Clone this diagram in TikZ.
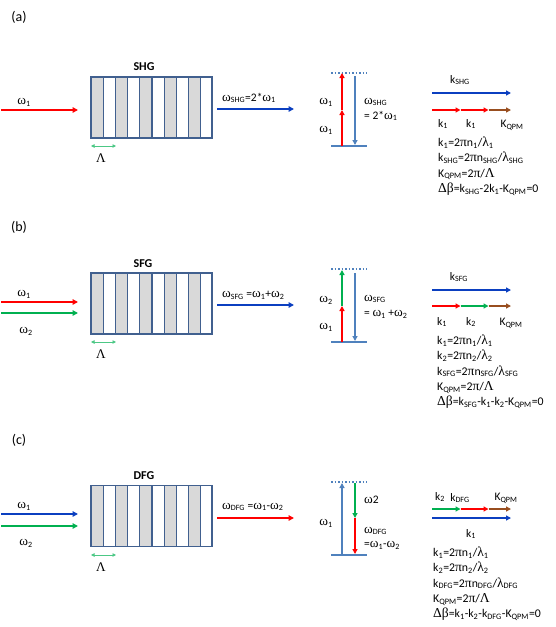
\documentclass[tikz,border=0pt]{standalone}
\usepackage{fontspec}
\setmainfont{Carlito}
\newfontfamily\greekfont[Scale=1.15]{Liberation Serif}
\usetikzlibrary{arrows.meta}
\newcommand{\om}{{\greekfont ω}}
\newcommand{\lam}{{\greekfont λ}}
\newcommand{\Lam}{{\greekfont Λ}}
\newcommand{\tpi}{{\greekfont π}}
\newcommand{\dbeta}{{\greekfont Δβ}}
\newcommand{\dn}[1]{\textsubscript{#1}}
\definecolor{beamred}{HTML}{FF0000}
\definecolor{beamblue}{HTML}{0B3FC0}
\definecolor{beamgreen}{HTML}{00B050}
\definecolor{beambrown}{HTML}{984E1F}
\definecolor{levelblue}{HTML}{4F81BD}
\definecolor{boxblue}{HTML}{41608F}
\definecolor{stripe}{HTML}{D9D9D9}
\tikzset{
  beam/.style={line width=1.7pt,-{Triangle[length=5.5pt,width=5.5pt]}},
  thinbeam/.style={line width=1.4pt,-{Triangle[length=5pt,width=5pt]}},
  period/.style={beamgreen!70,line width=0.9pt,{Triangle[length=3.5pt,width=3.5pt]}-{Triangle[length=3.5pt,width=3.5pt]}},
  level/.style={levelblue,line width=1.7pt},
  virtual/.style={levelblue,line width=1.5pt,dotted},
  crystal/.style={draw=boxblue,line width=1.3pt,minimum width=121pt,minimum height=61pt,inner sep=0pt},
  lbl/.style={font=\fontsize{11.5}{13}\selectfont,inner sep=0pt},
  title/.style={font=\fontsize{12}{14}\selectfont\bfseries,inner sep=0pt},
  eqs/.style={font=\fontsize{11.8}{15.2}\selectfont,inner sep=0pt,anchor=north west,align=left},
}
\begin{document}
\begin{tikzpicture}[x=1pt,y=-1pt]
    \useasboundingbox (0,0) rectangle (556,627);

    % Crystals
    \foreach \name/\top/\mid in {xtalA/77/107.5, xtalB/273/303.5, xtalC/485.5/516} {
        \foreach \i in {0,...,4}
            \draw[boxblue,line width=1.3pt,fill=stripe] (91+24.4*\i,\top) rectangle +(12.2,61);
        \node[crystal] (\name) at (151.5,\mid) {};
    }

    % (a) SHG
    \node[font=\fontsize{14}{16}\selectfont,inner sep=0pt] (tagA) at (19,17) {(a)};
    \node[title] (nameA) at (144,67) {SHG};
    \coordinate (inA) at (1,110);
    \coordinate (inAend) at (78,110);
    \draw[beam,beamred] (inA) -- (inAend);
    \node[lbl] (inAlbl) at (24,102) {\om\dn{1}};
    \coordinate (outA) at (217,109);
    \coordinate (outAend) at (294,109);
    \draw[beam,beamblue] (outA) -- (outAend);
    \node[lbl,anchor=west] (outAlbl) at (222,98) {\om\dn{SHG}=2*\om\dn{1}};
    \coordinate (perA) at (91,146);
    \coordinate (perAend) at (116,146);
    \draw[period] (perA) -- (perAend);
    \node[lbl] (lamA) at (101,158) {\Lam};
    % levels
    \coordinate (lowAl) at (331,146);
    \coordinate (lowAr) at (367,146);
    \coordinate (topAl) at (331,73);
    \coordinate (topAr) at (367,73);
    \draw[level] (lowAl) -- (lowAr);
    \draw[virtual] (topAl) -- (topAr);
    \coordinate (upA) at (342,146);
    \coordinate (upAm) at (342,110);
    \coordinate (upAt) at (342,73);
    \draw[thinbeam,beamred] (upA) -- (upAm);
    \draw[thinbeam,beamred] (upAm) -- (upAt);
    \coordinate (dnAt) at (355,76);
    \coordinate (dnA) at (355,145);
    \draw[thinbeam,levelblue] (dnAt) -- (dnA);
    \node[lbl] (wAa) at (326,102) {\om\dn{1}};
    \node[lbl] (wAb) at (326,130) {\om\dn{1}};
    \node[lbl,anchor=west] (wAc) at (364,102) {\om\dn{SHG}};
    \node[lbl,anchor=west] (wAd) at (364,116) {= 2*\om\dn{1}};
    % k vectors
    \coordinate (kAa) at (432,93);
    \coordinate (kAb) at (511,93);
    \draw[thinbeam,beamblue] (kAa) -- (kAb);
    \coordinate (kAc) at (432,110);
    \coordinate (kAd) at (460.5,110);
    \coordinate (kAe) at (488.5,110);
    \coordinate (kAf) at (511,110);
    \draw[thinbeam,beamred] (kAc) -- (kAd);
    \draw[thinbeam,beamred] (kAd) -- (kAe);
    \draw[thinbeam,beambrown] (kAe) -- (kAf);
    \node[lbl] (kAlbl) at (460,80) {k\dn{SHG}};
    \node[lbl] (kAone) at (443,124) {k\dn{1}};
    \node[lbl] (kAtwo) at (471,124) {k\dn{1}};
    \node[lbl] (kAqpm) at (512,125) {K\dn{QPM}};
    \node[eqs] (eqA) at (438,137) {k\dn{1}=2\tpi n\dn{1}/\lam\dn{1}\\k\dn{SHG}=2\tpi n\dn{SHG}/\lam\dn{SHG}\\K\dn{QPM}=2\tpi/\Lam\\\dbeta=k\dn{SHG}-2k\dn{1}-K\dn{QPM}=0};

    % (b) SFG
    \node[font=\fontsize{14}{16}\selectfont,inner sep=0pt] (tagB) at (19,227) {(b)};
    \node[title] (nameB) at (143,264) {SFG};
    \coordinate (inB) at (1,302);
    \coordinate (inBend) at (78,302);
    \draw[beam,beamred] (inB) -- (inBend);
    \coordinate (inC) at (1,313);
    \coordinate (inCend) at (78,313);
    \draw[beam,beamgreen] (inC) -- (inCend);
    \node[lbl] (inBlbl) at (24,294) {\om\dn{1}};
    \node[lbl] (inClbl) at (26,331) {\om\dn{2}};
    \coordinate (outB) at (217,305);
    \coordinate (outBend) at (294,305);
    \draw[beam,beamblue] (outB) -- (outBend);
    \node[lbl,anchor=west] (outBlbl) at (222,295) {\om\dn{SFG} =\om\dn{1}+\om\dn{2}};
    \coordinate (perB) at (91,342);
    \coordinate (perBend) at (116,342);
    \draw[period] (perB) -- (perBend);
    \node[lbl] (lamB) at (101,354) {\Lam};
    % levels
    \coordinate (lowBl) at (331,342);
    \coordinate (lowBr) at (367,342);
    \coordinate (topBl) at (331,269);
    \coordinate (topBr) at (367,269);
    \draw[level] (lowBl) -- (lowBr);
    \draw[virtual] (topBl) -- (topBr);
    \coordinate (upB) at (342,342);
    \coordinate (upBm) at (342,306);
    \coordinate (upBt) at (342,270);
    \draw[thinbeam,beamred] (upB) -- (upBm);
    \draw[thinbeam,beamgreen] (upBm) -- (upBt);
    \coordinate (dnBt) at (355,273);
    \coordinate (dnB) at (355,341);
    \draw[thinbeam,levelblue] (dnBt) -- (dnB);
    \node[lbl] (wBa) at (326,300) {\om\dn{2}};
    \node[lbl] (wBb) at (326,327) {\om\dn{1}};
    \node[lbl,anchor=west] (wBc) at (364,299) {\om\dn{SFG}};
    \node[lbl,anchor=west] (wBd) at (364,314) {= \om\dn{1} +\om\dn{2}};
    % k vectors
    \coordinate (kBa) at (432,290);
    \coordinate (kBb) at (511,290);
    \draw[thinbeam,beamblue] (kBa) -- (kBb);
    \coordinate (kBc) at (432,306);
    \coordinate (kBd) at (460.5,306);
    \coordinate (kBe) at (488.5,306);
    \coordinate (kBf) at (511,306);
    \draw[thinbeam,beamred] (kBc) -- (kBd);
    \draw[thinbeam,beamgreen] (kBd) -- (kBe);
    \draw[thinbeam,beambrown] (kBe) -- (kBf);
    \node[lbl] (kBlbl) at (459,277) {k\dn{SFG}};
    \node[lbl] (kBone) at (442,322) {k\dn{1}};
    \node[lbl] (kBtwo) at (471,322) {k\dn{2}};
    \node[lbl] (kBqpm) at (511,323) {K\dn{QPM}};
    \node[eqs] (eqB) at (437,335) {k\dn{1}=2\tpi n\dn{1}/\lam\dn{1}\\k\dn{2}=2\tpi n\dn{2}/\lam\dn{2}\\k\dn{SFG}=2\tpi n\dn{SFG}/\lam\dn{SFG}\\K\dn{QPM}=2\tpi/\Lam\\\dbeta=k\dn{SFG}-k\dn{1}-k\dn{2}-K\dn{QPM}=0};

    % (c) DFG
    \node[font=\fontsize{14}{16}\selectfont,inner sep=0pt] (tagC) at (19,440) {(c)};
    \node[title] (nameC) at (144,476) {DFG};
    \coordinate (inD) at (1,514);
    \coordinate (inDend) at (78,514);
    \draw[beam,beamblue] (inD) -- (inDend);
    \coordinate (inE) at (1,526);
    \coordinate (inEend) at (78,526);
    \draw[beam,beamgreen] (inE) -- (inEend);
    \node[lbl] (inDlbl) at (24,506) {\om\dn{1}};
    \node[lbl] (inElbl) at (26,543) {\om\dn{2}};
    \coordinate (outC) at (217,518);
    \coordinate (outCend) at (294,518);
    \draw[beam,beamred] (outC) -- (outCend);
    \node[lbl,anchor=west] (outClbl) at (222,507) {\om\dn{DFG} =\om\dn{1}-\om\dn{2}};
    \coordinate (perC) at (91,555);
    \coordinate (perCend) at (116,555);
    \draw[period] (perC) -- (perCend);
    \node[lbl] (lamC) at (101,567) {\Lam};
    % levels
    \coordinate (lowCl) at (331,555);
    \coordinate (lowCr) at (367,555);
    \coordinate (topCl) at (331,482);
    \coordinate (topCr) at (367,482);
    \draw[level] (lowCl) -- (lowCr);
    \draw[virtual] (topCl) -- (topCr);
    \coordinate (upC) at (342,555);
    \coordinate (upCt) at (342,483);
    \draw[thinbeam,levelblue] (upC) -- (upCt);
    \coordinate (dnCt) at (355,483);
    \coordinate (dnCm) at (355,518);
    \coordinate (dnC) at (355,554);
    \draw[thinbeam,beamgreen] (dnCt) -- (dnCm);
    \draw[thinbeam,beamred] (dnCm) -- (dnC);
    \node[lbl] (wCa) at (326,523) {\om\dn{1}};
    \node[lbl,anchor=west] (wCb) at (364,500) {\om 2};
    \node[lbl,anchor=west] (wCc) at (364,531) {\om\dn{DFG}};
    \node[lbl,anchor=west] (wCd) at (364,545) {=\om\dn{1}-\om\dn{2}};
    % k vectors
    \coordinate (kCa) at (432,509);
    \coordinate (kCb) at (460.5,509);
    \coordinate (kCc) at (488.5,509);
    \coordinate (kCd) at (511,509);
    \draw[thinbeam,beamgreen] (kCa) -- (kCb);
    \draw[thinbeam,beamred] (kCb) -- (kCc);
    \draw[thinbeam,beambrown] (kCc) -- (kCd);
    \coordinate (kCe) at (432,518);
    \coordinate (kCf) at (511,518);
    \draw[thinbeam,beamblue] (kCe) -- (kCf);
    \node[lbl] (kCtwo) at (440,497) {k\dn{2}};
    \node[lbl] (kClbl) at (460,498) {k\dn{DFG}};
    \node[lbl] (kCqpm) at (506,498) {K\dn{QPM}};
    \node[lbl] (kCone) at (471,534) {k\dn{1}};
    \node[eqs] (eqC) at (433,547) {k\dn{1}=2\tpi n\dn{1}/\lam\dn{1}\\k\dn{2}=2\tpi n\dn{2}/\lam\dn{2}\\k\dn{DFG}=2\tpi n\dn{DFG}/\lam\dn{DFG}\\K\dn{QPM}=2\tpi/\Lam\\\dbeta=k\dn{1}-k\dn{2}-k\dn{DFG}-K\dn{QPM}=0};
\end{tikzpicture}
\end{document}
